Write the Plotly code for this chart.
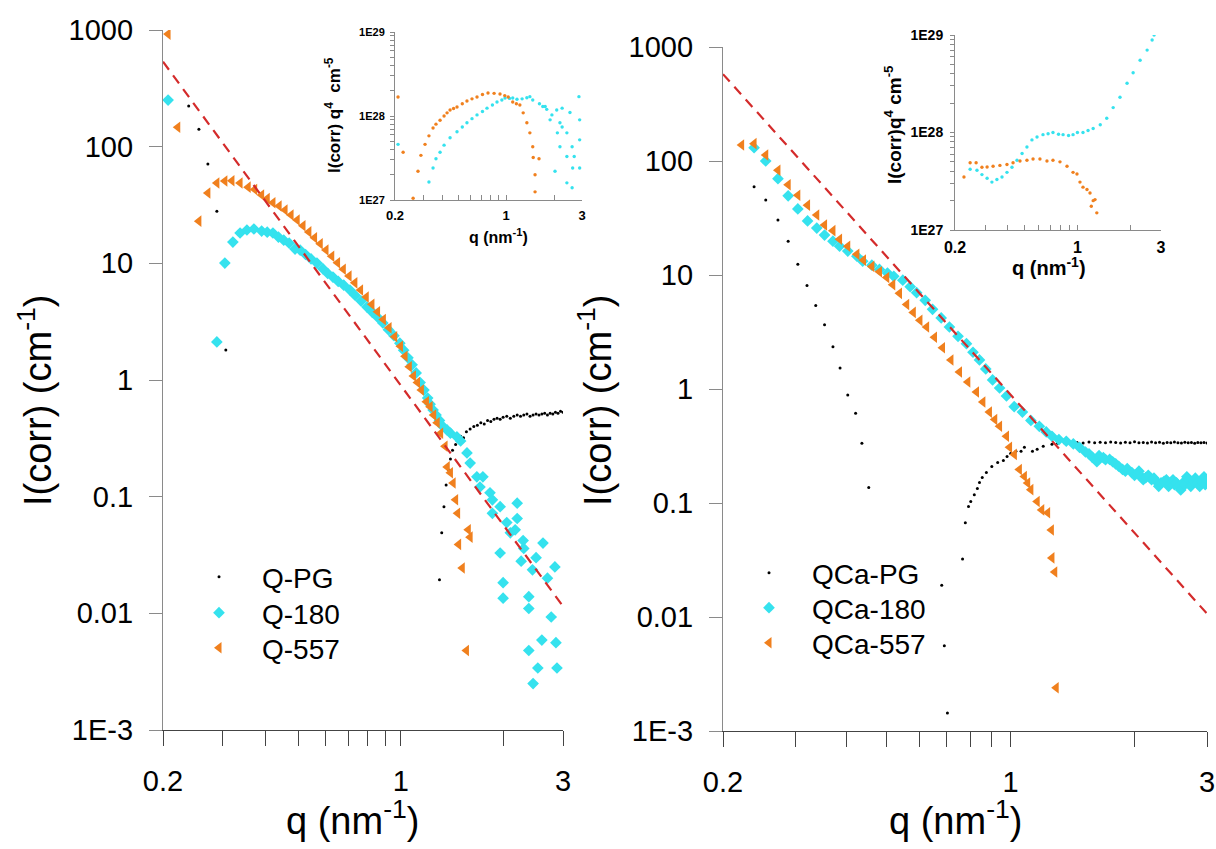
import math
import plotly.graph_objects as go

# Full-window figure; the page body margin is removed after plotting (post_script)
OFF = 0
W, H = 1216, 849
FONT = "Liberation Sans, Arial, sans-serif"
CYAN = "#35E2EE"
ORANGE = "#F0801E"
RED = "#D42B2B"
GRAY = "#8a8a8a"
DARK = "#444444"

# ---------------- data: left main panel ----------------
q_pg_L = [0.238, 0.255, 0.271, 0.288, 0.306,
          1.30, 1.32, 1.34, 1.36, 1.38, 1.40, 1.42, 1.45, 1.48, 1.50, 1.53, 1.56, 1.60,
          1.64, 1.68, 1.72, 1.76, 1.80, 1.84, 1.88, 1.92, 1.96, 2.00, 2.05, 2.10, 2.15,
          2.20, 2.25, 2.30, 2.35, 2.40, 2.45, 2.50, 2.55, 2.60, 2.65, 2.70, 2.75, 2.80,
          2.85, 2.90, 2.95, 3.00]
I_pg_L = [223, 141, 71, 28, 1.81,
          0.0194, 0.049, 0.082, 0.126, 0.17, 0.21, 0.25, 0.28, 0.30, 0.33, 0.32, 0.36, 0.38,
          0.40, 0.41, 0.43, 0.42, 0.45, 0.44, 0.46, 0.47, 0.46, 0.48, 0.49, 0.47, 0.49,
          0.50, 0.49, 0.50, 0.51, 0.49, 0.50, 0.51, 0.50, 0.51, 0.52, 0.50, 0.52, 0.51,
          0.53, 0.52, 0.54, 0.53]

q_180_L = [0.207, 0.288, 0.304, 0.321, 0.337, 0.353, 0.370, 0.390, 0.405, 0.421, 0.437,
           0.453, 0.470, 0.489, 0.506, 0.525, 0.545, 0.567, 0.590, 0.610, 0.632, 0.655,
           0.680, 0.709, 0.735, 0.765, 0.796, 0.825, 0.855, 0.886, 0.920, 0.955, 0.994,
           1.02, 1.05, 1.08, 1.11, 1.14, 1.17, 1.20, 1.22, 1.245, 1.27, 1.30, 1.33, 1.368,
           1.40, 1.463, 1.50, 1.566, 1.60, 1.674, 1.744, 1.71, 1.83, 1.86, 1.96, 1.86, 2.20,
           2.10, 2.29, 1.96, 2.26, 2.44, 2.00, 2.38, 2.84, 2.00, 2.77, 2.38, 2.60, 2.86, 2.38,
           2.53, 2.88, 2.45, 2.05, 2.17, 2.30, 2.50, 2.62, 2.70, 2.20]
I_180_L = [251, 2.12, 10.05, 15.2, 18.2, 19.3, 19.7, 18.9, 18.5, 18.2, 16.8,
           15.8, 14.9, 13.25, 13.0, 11.9, 10.9, 10.05, 9.0, 8.2, 7.63, 7.0,
           6.5, 5.9, 5.3, 4.75, 4.22, 3.8, 3.45, 3.08, 2.7, 2.4, 2.07,
           1.8, 1.55, 1.35, 1.15, 0.95, 0.82, 0.70, 0.62, 0.553, 0.50, 0.45, 0.40, 0.373,
           0.35, 0.325, 0.30, 0.237, 0.194, 0.148, 0.148, 0.121, 0.108, 0.094, 0.082, 0.072, 0.088,
           0.049, 0.042, 0.0329, 0.028, 0.0236, 0.0183, 0.0139, 0.025, 0.0135, 0.0093, 0.011, 0.0059, 0.0056, 0.0048,
           0.0034, 0.0034, 0.0025, 0.060, 0.052, 0.036, 0.030, 0.040, 0.020, 0.065]

q_557_L = [0.207, 0.221, 0.255, 0.271, 0.288, 0.304, 0.319, 0.337, 0.356, 0.372, 0.390,
           0.405, 0.421, 0.439, 0.457, 0.476, 0.496, 0.516, 0.537, 0.558, 0.580, 0.603,
           0.627, 0.652, 0.678, 0.705, 0.733, 0.762, 0.792, 0.823, 0.855, 0.889, 0.924,
           0.960, 0.998, 1.03, 1.06, 1.09, 1.12, 1.15, 1.19, 1.22, 1.25, 1.28, 1.31, 1.35,
           1.37, 1.40, 1.426, 1.45, 1.47, 1.48, 1.517, 1.56, 1.58, 1.60]
I_557_L = [922, 147, 23, 40, 48.8, 50.7, 51, 48.8, 45, 43, 38.5,
           36, 33, 31, 28.6, 26, 23.5, 21, 18.6, 16.6, 14.7, 13.0,
           11.5, 10.1, 8.9, 7.8, 6.8, 5.9, 5.15, 4.45, 3.85, 3.3, 2.8,
           2.35, 1.95, 1.6, 1.3, 1.08, 0.95, 0.82, 0.65, 0.59, 0.50, 0.43, 0.35, 0.27,
           0.18, 0.16, 0.131, 0.094, 0.072, 0.039, 0.0245, 0.0048, 0.052, 0.045]

# ---------------- data: right main panel ----------------
q_pg_R = [0.238, 0.254, 0.272, 0.288, 0.304, 0.320, 0.336, 0.353, 0.370, 0.385, 0.402,
          0.420, 0.435, 0.452, 0.680, 0.690, 0.702, 0.764, 0.776, 0.790, 0.800, 0.816,
          0.830, 0.840, 0.853, 0.873, 0.900, 0.930, 0.960, 0.980, 1.00, 1.03, 1.06,
          1.08, 1.13, 1.16, 1.20, 1.26, 1.30, 1.35, 1.40, 1.45, 1.50, 1.55, 1.60, 1.65,
          1.70, 1.75, 1.80, 1.85, 1.90, 1.95, 2.00, 2.05, 2.10, 2.15, 2.20, 2.25, 2.30,
          2.35, 2.40, 2.45, 2.50, 2.55, 2.60, 2.65, 2.70, 2.75, 2.80, 2.85, 2.90, 2.95, 3.00]
I_pg_R = [59.4, 45.6, 30.4, 19.8, 12.4, 8.1, 5.4, 3.67, 2.35, 1.53, 0.885,
          0.614, 0.334, 0.137, 0.019, 0.0056, 0.00144, 0.0323, 0.067, 0.093, 0.103, 0.118,
          0.134, 0.151, 0.167, 0.185, 0.209, 0.227, 0.236, 0.256, 0.272, 0.284, 0.284,
          0.308, 0.284, 0.296, 0.314, 0.327, 0.335, 0.338, 0.333, 0.340, 0.336, 0.342, 0.338, 0.341,
          0.337, 0.343, 0.339, 0.336, 0.341, 0.338, 0.344, 0.337, 0.340, 0.336, 0.342, 0.338, 0.341,
          0.335, 0.340, 0.337, 0.342, 0.338, 0.336, 0.341, 0.337, 0.339, 0.335, 0.340, 0.337, 0.339, 0.336]

q_180_R = [0.238, 0.254, 0.272, 0.288, 0.304, 0.321, 0.338, 0.353, 0.370, 0.384, 0.402,
           0.423, 0.437, 0.460, 0.480, 0.502, 0.520, 0.547, 0.570, 0.591, 0.620, 0.646,
           0.678, 0.710, 0.745, 0.781, 0.810, 0.840, 0.870, 0.904, 0.940, 0.977, 1.02,
           1.068, 1.12, 1.174, 1.22, 1.26, 1.31, 1.365, 1.42, 1.47, 1.52, 1.55, 1.58, 1.62,
           1.64, 1.68, 1.70, 1.74, 1.77, 1.80, 1.83, 1.87, 1.90, 1.92, 1.97, 2.00, 2.03,
           2.05, 2.08, 2.10, 2.13, 2.16, 2.20, 2.23, 2.26, 2.29, 2.32, 2.36, 2.39, 2.42,
           2.45, 2.48, 2.50, 2.53, 2.56, 2.59, 2.62, 2.65, 2.68, 2.71, 2.74, 2.78, 2.81,
           2.85, 2.88, 2.92, 2.95, 2.97, 3.00]
I_180_R = [131, 100, 70, 49.5, 38, 29.8, 25.8, 22.4, 19.8, 17.9, 16.2,
           14.6, 13.2, 12.2, 11.2, 10.4, 9.74, 9.0, 7.9, 7.0, 6.0, 5.0,
           4.2, 3.5, 2.9, 2.5, 2.1, 1.8, 1.5, 1.2, 1.02, 0.868, 0.70,
           0.627, 0.53, 0.471, 0.42, 0.385, 0.36, 0.348, 0.33, 0.308, 0.28, 0.27, 0.251, 0.23,
           0.26, 0.25, 0.24, 0.241, 0.23, 0.22, 0.21, 0.197, 0.19, 0.20, 0.185, 0.175, 0.18,
           0.19, 0.17, 0.16, 0.167, 0.175, 0.16, 0.165, 0.154, 0.14, 0.15, 0.155, 0.16, 0.14,
           0.148, 0.16, 0.145, 0.15, 0.139, 0.13, 0.15, 0.145, 0.17, 0.16, 0.14, 0.155, 0.165,
           0.15, 0.14, 0.154, 0.17, 0.145, 0.16]

q_557_R = [0.222, 0.238, 0.254, 0.272, 0.288, 0.304, 0.321, 0.338, 0.353, 0.370, 0.384,
           0.402, 0.423, 0.439, 0.460, 0.480, 0.500, 0.517, 0.537, 0.559, 0.580, 0.602,
           0.625, 0.653, 0.683, 0.716, 0.751, 0.787, 0.826, 0.856, 0.888, 0.915, 0.940,
           0.977, 0.994, 1.021, 1.05, 1.08, 1.10, 1.12, 1.16, 1.19, 1.23, 1.256, 1.26,
           1.28, 1.29]
I_557_R = [138, 142, 113, 83, 62, 50, 41, 33.6, 27.5, 24.5, 20.6,
           17.9, 15.2, 13.5, 11.9, 10.7, 9.5, 8.2, 6.9, 5.5, 4.7, 4.0,
           3.5, 2.85, 2.3, 1.8, 1.41, 1.15, 0.94, 0.77, 0.627, 0.54, 0.471,
           0.385, 0.308, 0.267, 0.197, 0.171, 0.15, 0.131, 0.103, 0.087, 0.082, 0.058, 0.033,
           0.0248, 0.0024]

# Porod (q^-4) guide lines
porod_q = [0.2, 3.0]
porod_I_L = [535.0, 0.0115]
porod_I_R = [578.0, 0.0107]

# ---------------- data: insets (I(corr) q^4, cm^-5) ----------------
qi_180_L = [0.209, 0.327, 0.347, 0.362, 0.384, 0.407, 0.444, 0.491, 0.530, 0.567, 0.610,
            0.656, 0.710, 0.758, 0.820, 0.876, 0.940, 0.984, 1.05, 1.10, 1.17, 1.26, 1.35,
            1.41, 1.47, 1.62, 1.70, 1.76, 1.80, 1.89, 1.94, 2.08, 2.25, 2.18, 2.25, 2.41,
            2.10, 2.60, 2.18, 2.41, 2.68, 2.03, 2.62, 2.90, 2.87, 2.90, 2.90, 2.41, 2.60, 2.52]
vi_180_L = [4.6e27, 1.64e27, 2.4e27, 3.1e27, 3.7e27, 4.5e27, 5.5e27, 6.5e27, 7.4e27, 8.3e27, 9.3e27,
            1.03e28, 1.13e28, 1.24e28, 1.35e28, 1.47e28, 1.55e28, 1.64e28, 1.62e28, 1.64e28, 1.58e28, 1.6e28, 1.65e28,
            1.7e28, 1.55e28, 1.4e28, 1.3e28, 1.3e28, 1.2e28, 9.0e27, 1.03e28, 1.18e28, 1.24e28, 8.3e27, 7.4e27, 6.3e27,
            6.3e27, 4.3e27, 4.3e27, 3.3e27, 3.3e27, 2.2e27, 2.4e27, 2.4e27, 1.7e28, 9.0e27, 5.2e27, 1.6e27, 1.4e27, 1.1e28]

qi_557_L = [0.209, 0.225, 0.260, 0.279, 0.291, 0.309, 0.327, 0.347, 0.362, 0.384, 0.407,
            0.425, 0.444, 0.467, 0.491, 0.530, 0.567, 0.610, 0.656, 0.710, 0.769, 0.840,
            0.915, 0.980, 1.03, 1.10, 1.16, 1.22, 1.28, 1.35, 1.41, 1.47, 1.48, 1.61, 1.52, 1.52]
vi_557_L = [1.68e28, 3.7e27, 1.05e27, 2.2e27, 3.4e27, 4.6e27, 5.8e27, 7.2e27, 8.0e27, 8.9e27, 1.0e28,
            1.09e28, 1.18e28, 1.23e28, 1.28e28, 1.4e28, 1.51e28, 1.6e28, 1.68e28, 1.8e28, 1.88e28, 1.86e28,
            1.83e28, 1.75e28, 1.68e28, 1.47e28, 1.4e28, 1.35e28, 1.09e28, 8.3e27, 6.3e27, 4.3e27, 3.2e27, 3.1e27, 2.0e27, 1.25e27]

qi_180_R = [0.244, 0.267, 0.285, 0.305, 0.325, 0.347, 0.371, 0.396, 0.423, 0.452, 0.483,
            0.515, 0.550, 0.588, 0.636, 0.680, 0.725, 0.780, 0.828, 0.890, 0.944, 1.00,
            1.076, 1.15, 1.23, 1.35, 1.47, 1.60, 1.75, 1.92, 2.08, 2.28, 2.50, 2.67, 2.74]
vi_180_R = [4.2e27, 4.1e27, 3.7e27, 3.4e27, 3.1e27, 3.3e27, 3.5e27, 3.9e27, 4.4e27, 5.2e27, 6.1e27,
            7.1e27, 8.4e27, 9.0e27, 9.5e27, 9.7e27, 1.0e28, 9.6e27, 9.5e27, 9.3e27, 9.5e27, 1.0e28,
            1.0e28, 1.05e28, 1.1e28, 1.2e28, 1.4e28, 1.8e28, 2.3e28, 3.2e28, 4.1e28, 5.5e28, 7.0e28, 8.9e28, 1.0e29]

qi_557_R = [0.225, 0.244, 0.264, 0.285, 0.305, 0.330, 0.361, 0.396, 0.429, 0.470, 0.515,
            0.558, 0.611, 0.670, 0.725, 0.795, 0.872, 0.944, 0.994, 1.034, 1.076, 1.134,
            1.18, 1.23, 1.20, 1.26, 1.29]
vi_557_R = [3.5e27, 4.9e27, 4.9e27, 4.4e27, 4.43e27, 4.5e27, 4.6e27, 4.7e27, 4.9e27, 5.1e27, 5.2e27,
            5.35e27, 5.35e27, 5.1e27, 5.2e27, 5.0e27, 4.5e27, 3.9e27, 3.75e27, 3.1e27, 2.75e27, 2.6e27,
            2.4e27, 2.0e27, 1.75e27, 2.05e27, 1.5e27]

# tick definitions
x_major = [0.2, 1, 3]
x_minor = [0.3, 0.4, 0.5, 0.6, 0.7, 0.8, 0.9, 2]
y_major_main = [1e-3, 1e-2, 1e-1, 1, 10, 100, 1000]
y_major_text = ["1E-3", "0.01", "0.1", "1", "10", "100", "1000"]
y_minor_main = [m * 10.0 ** k for k in range(-3, 3) for m in range(2, 10)]
y_inset = [1e27, 1e28, 1e29]
y_inset_text = ["1E27", "1E28", "1E29"]
y_inset_minor = [m * 10.0 ** k for k in (27, 28) for m in range(2, 10)]

# ---------------- figure ----------------
fig = go.Figure()


def scatter(q, v, name, xa, ya, marker, legend=None, show=True):
    fig.add_trace(go.Scatter(x=q, y=v, mode="markers", name=name, xaxis=xa, yaxis=ya,
                             marker=marker, showlegend=show, legend=legend))


dot = dict(color="black", size=3, symbol="circle")
dia = dict(color=CYAN, size=9, symbol="diamond")
tri = dict(color=ORANGE, size=10, symbol="triangle-left")

scatter(q_pg_L, I_pg_L, "Q-PG", "x", "y", dot, "legend")
scatter(q_180_L, I_180_L, "Q-180", "x", "y", dia, "legend2")
scatter(q_557_L, I_557_L, "Q-557", "x", "y", tri, "legend3")
fig.add_trace(go.Scatter(x=porod_q, y=porod_I_L, mode="lines", xaxis="x", yaxis="y", showlegend=False,
                         line=dict(color=RED, width=2.2, dash="10px,7px")))

scatter(q_pg_R, I_pg_R, "QCa-PG", "x2", "y2", dot, "legend4")
scatter(q_180_R, I_180_R, "QCa-180", "x2", "y2", dia, "legend5")
scatter(q_557_R, I_557_R, "QCa-557", "x2", "y2", tri, "legend6")
fig.add_trace(go.Scatter(x=porod_q, y=porod_I_R, mode="lines", xaxis="x2", yaxis="y2", showlegend=False,
                         line=dict(color=RED, width=2.2, dash="10px,7px")))

small_c = dict(color=CYAN, size=3.4, symbol="circle")
small_o = dict(color=ORANGE, size=3.4, symbol="circle")
scatter(qi_180_L, vi_180_L, "", "x3", "y3", small_c, show=False)
scatter(qi_557_L, vi_557_L, "", "x3", "y3", small_o, show=False)
scatter(qi_180_R, vi_180_R, "", "x4", "y4", small_c, show=False)
scatter(qi_557_R, vi_557_R, "", "x4", "y4", small_o, show=False)

XR = [math.log10(0.2), math.log10(3)]


def fx(px):
    return (px - OFF) / W


def fy(py):
    return 1 - (py - OFF) / H


def px_dom_x(a, b):
    return [fx(a), fx(b)]


def px_dom_y(top, bottom):
    return [fy(bottom), fy(top)]


def main_x(dom, anchor):
    return dict(type="log", range=XR, domain=dom, anchor=anchor,
                tickmode="array", tickvals=x_major + x_minor,
                ticktext=["0.2", "1", "3"] + [""] * len(x_minor),
                ticks="outside", ticklen=15, tickwidth=1, tickcolor=DARK,
                showline=True, linecolor=DARK, linewidth=1, showgrid=False, zeroline=False,
                tickfont=dict(family=FONT, size=29, color="black"), ticklabelstandoff=10,
                ticklabeloverflow="allow")


def main_x_inner(over, anchor):
    return dict(type="log", range=XR, overlaying=over, anchor=anchor,
                tickmode="array", tickvals=x_minor, ticktext=[""] * len(x_minor),
                ticks="inside", ticklen=16, tickwidth=1, tickcolor=DARK,
                showline=False, showgrid=False, zeroline=False, showticklabels=False)


def main_y(dom, anchor):
    return dict(type="log", range=[-3, 3], domain=dom, anchor=anchor,
                tickmode="array", tickvals=y_major_main, ticktext=y_major_text,
                ticks="outside", ticklen=13, tickwidth=1, tickcolor=GRAY,
                showline=True, linecolor=GRAY, linewidth=1.2, showgrid=False, zeroline=False,
                tickfont=dict(family=FONT, size=29, color="black"), ticklabelstandoff=10,
                ticklabeloverflow="allow")


def main_y_minor(over, anchor):
    return dict(type="log", range=[-3, 3], overlaying=over, anchor=anchor,
                tickmode="array", tickvals=y_minor_main, ticktext=[""] * len(y_minor_main),
                ticks="outside", ticklen=7, tickwidth=1, tickcolor=GRAY,
                showline=False, showgrid=False, zeroline=False, showticklabels=False)


def inset_x(dom, anchor, fs, stand):
    return dict(type="log", range=XR, domain=dom, anchor=anchor,
                tickmode="array", tickvals=x_major + x_minor,
                ticktext=["0.2", "1", "3"] + [""] * len(x_minor),
                ticks="inside", ticklen=5, tickwidth=1, tickcolor=GRAY,
                showline=True, linecolor=GRAY, linewidth=1, showgrid=False, zeroline=False,
                tickfont=dict(family=FONT, size=fs, color="black", weight="bold"),
                ticklabelstandoff=stand, ticklabeloverflow="allow")


def inset_y(dom, anchor, fs, stand):
    return dict(type="log", range=[27, 29], domain=dom, anchor=anchor,
                tickmode="array", tickvals=y_inset + y_inset_minor,
                ticktext=y_inset_text + [""] * len(y_inset_minor),
                ticks="outside", ticklen=4, tickwidth=1, tickcolor=GRAY,
                showline=True, linecolor=GRAY, linewidth=1, showgrid=False, zeroline=False,
                tickfont=dict(family=FONT, size=fs, color="black", weight="bold"),
                ticklabelstandoff=stand, ticklabeloverflow="allow")


def one_legend(px_symbol, py_row):
    # single-entry legend: symbol centre at px_symbol, row centre at py_row
    return dict(x=fx(px_symbol - 44), y=fy(py_row), xanchor="left", yanchor="middle",
                bgcolor="rgba(0,0,0,0)", font=dict(family=FONT, size=28, color="black"),
                itemwidth=76, tracegroupgap=0)


fig.update_layout(
    width=W, height=H, margin=dict(l=0, r=0, t=0, b=0, autoexpand=False),
    paper_bgcolor="white", plot_bgcolor="rgba(0,0,0,0)",
    xaxis=main_x(px_dom_x(163, 563), "y"),
    yaxis=main_y(px_dom_y(30, 730), "x"),
    xaxis2=main_x(px_dom_x(723, 1207), "y2"),
    yaxis2=main_y(px_dom_y(47, 731), "x2"),
    xaxis3=inset_x(px_dom_x(395, 582), "y3", 13, 3),
    yaxis3=inset_y(px_dom_y(32, 200), "x3", 11, 3),
    xaxis4=inset_x(px_dom_x(955, 1161), "y4", 16, 3),
    yaxis4=inset_y(px_dom_y(35, 230), "x4", 14, 4),
    xaxis5=main_x_inner("x", "y"),
    yaxis5=main_y_minor("y", "x"),
    xaxis6=main_x_inner("x2", "y2"),
    yaxis6=main_y_minor("y2", "x2"),
    legend=one_legend(220, 577),
    legend2=one_legend(220, 613),
    legend3=one_legend(220, 648),
    legend4=one_legend(770, 573),
    legend5=one_legend(770, 608),
    legend6=one_legend(770, 643),
)


def note(text, xp, yp, size, angle=0, bold=False):
    fig.add_annotation(text=text, x=fx(xp), y=fy(yp), xref="paper", yref="paper",
                       showarrow=False, textangle=angle, xanchor="center", yanchor="middle",
                       font=dict(family=FONT, size=size, color="black",
                                 weight="bold" if bold else "normal"))


note("I(corr) (cm<sup>-1</sup>)", 35, 400, 38, -90)
note("I(corr) (cm<sup>-1</sup>)", 595, 400, 38, -90)
note("q (nm<sup>-1</sup>)", 352, 818, 38)
note("q (nm<sup>-1</sup>)", 955, 818, 38)
note("I(corr) q<sup>4</sup>  cm<sup>-5</sup>", 333, 115, 17, -90, True)
note("q (nm<sup>-1</sup>)", 498, 236, 16, 0, True)
note("I(corr)q<sup>4</sup> cm<sup>-5</sup>", 893, 125, 19, -90, True)
note("q (nm<sup>-1</sup>)", 1049, 266, 20, 0, True)

fig.write_html(
    "out.html",
    config={"displayModeBar": False},
    post_script="document.body.style.margin='0';document.body.style.overflow='hidden';",
)
